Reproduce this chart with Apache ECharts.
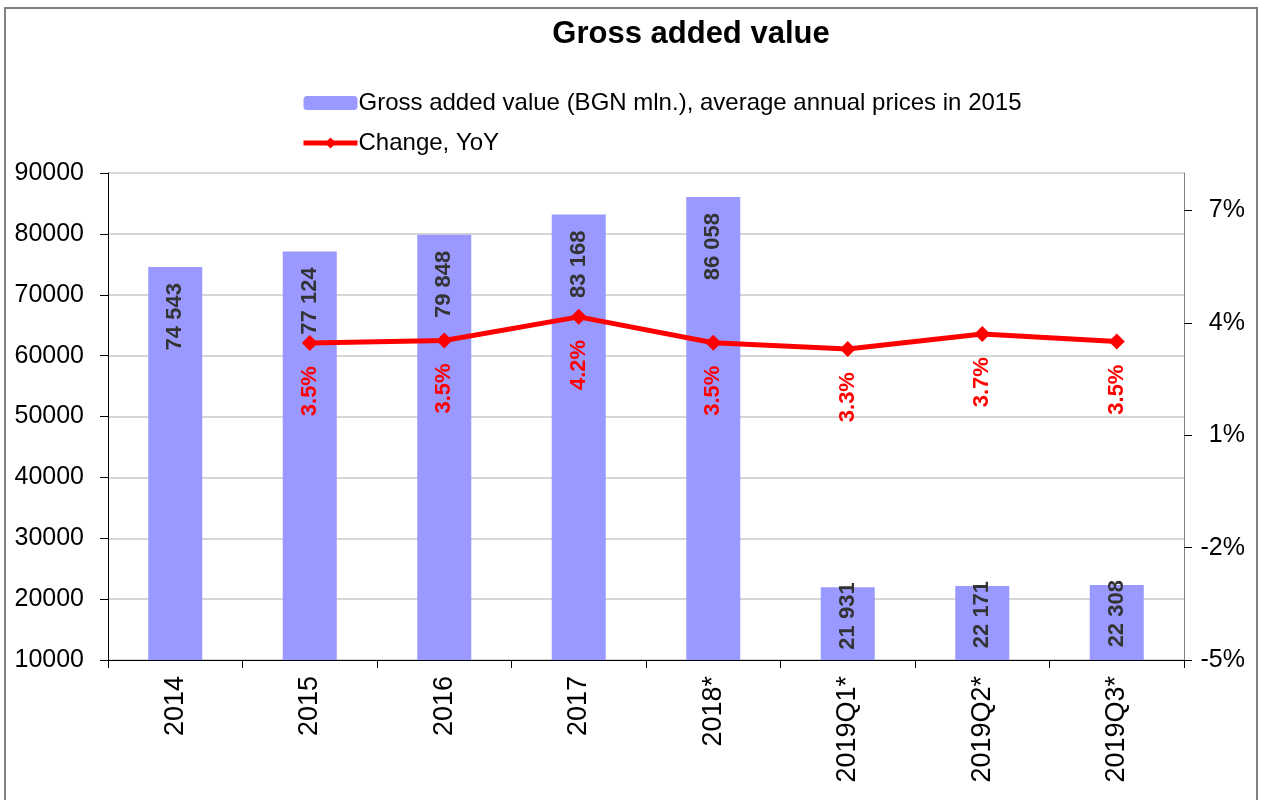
<!DOCTYPE html>
<html>
<head>
<meta charset="utf-8">
<script src="https://cdn.jsdelivr.net/npm/echarts@6/dist/echarts.min.js"></script>
<style>
  html, body { margin: 0; padding: 0; background: #fff; }
  #chart { width: 1266px; height: 800px; }
</style>
</head>
<body>
<div id="chart"></div>
<script>
// data
const categories = ['2014', '2015', '2016', '2017', '2018*', '2019Q1*', '2019Q2*', '2019Q3*']
const gvaValues = [74543, 77124, 79848, 83168, 86058, 21931, 22171, 22308]
const changeValues = [null, 3.46, 3.53, 4.16, 3.47, 3.3, 3.7, 3.5]
const leftTicks = [10000, 20000, 30000, 40000, 50000, 60000, 70000, 80000, 90000]
const rightTicks = [-5, -2, 1, 4, 7]

const fontFamily = 'Liberation Sans, Arial, sans-serif'
const barName = 'Gross added value (BGN mln.), average annual prices in 2015'
const lineName = 'Change, YoY'

// short quarterly bars: label sits a bit higher, as in the picture
const barData = gvaValues.map(function (v) {
  if (v < 30000) {
    return { value: v, label: { distance: -5 } }
  }
  return v
})

let myChart = echarts.init(document.getElementById('chart'))
myChart.setOption({
  animation: false,
  textStyle: { fontFamily: fontFamily },
  title: {
    text: 'Gross added value',
    left: 686,
    textAlign: 'center',
    top: 14,
    textStyle: { fontSize: 31, fontWeight: 'bold', color: '#000', fontFamily: fontFamily },
  },
  graphic: [
    {
      type: 'rect',
      shape: { x: 5, y: 8, width: 1252, height: 800 },
      style: { fill: 'none', stroke: '#808080', lineWidth: 2 },
      silent: true,
    },
  ],
  legend: {
    orient: 'vertical',
    left: 296,
    top: 86,
    itemWidth: 54,
    itemHeight: 14,
    itemGap: 16,
    textStyle: { fontSize: 24, color: '#000', fontFamily: fontFamily, padding: [0, 0, 0, -4] },
    data: [
      { name: barName },
      { name: lineName, lineStyle: { width: 5, color: '#ff0000' }, itemStyle: { color: '#ff0000' } },
    ],
  },
  grid: {
    left: 108,
    right: 82,
    top: 173,
    bottom: 140,
  },
  xAxis: {
    type: 'category',
    data: categories,
    axisLine: { onZero: false, lineStyle: { color: '#000', width: 1 } },
    axisTick: { show: true, length: 8, lineStyle: { color: '#000' } },
    axisLabel: {
      rotate: 90,
      margin: 16,
      fontSize: 27,
      color: '#000',
      fontFamily: fontFamily,
    },
  },
  yAxis: [
    {
      type: 'value',
      min: 10000,
      max: 90000,
      interval: 10000,
      position: 'left',
      axisLine: { show: true, lineStyle: { color: '#000' } },
      axisTick: { show: true, length: 8, lineStyle: { color: '#000' }, customValues: leftTicks },
      axisLabel: {
        fontSize: 25,
        color: '#000',
        margin: 24,
        fontFamily: fontFamily,
        customValues: leftTicks,
        formatter: function (v) { return String(v) },
      },
      splitLine: { show: true, lineStyle: { color: '#c8c8c8', width: 1.5 } },
    },
    {
      type: 'value',
      min: -5,
      max: 8,
      position: 'right',
      axisLine: { show: true, lineStyle: { color: '#808080' } },
      axisTick: { show: true, length: 8, lineStyle: { color: '#000' }, customValues: rightTicks },
      axisLabel: {
        fontSize: 25,
        color: '#000',
        margin: 61,
        align: 'right',
        fontFamily: fontFamily,
        customValues: rightTicks,
        formatter: function (v) { return v + '%' },
      },
      splitLine: { show: false },
    },
  ],
  series: [
    {
      name: barName,
      type: 'bar',
      yAxisIndex: 0,
      barWidth: 54,
      data: barData,
      itemStyle: { color: '#9999ff' },
      label: {
        show: true,
        position: 'insideTop',
        distance: 16,
        rotate: 90,
        align: 'right',
        verticalAlign: 'middle',
        fontSize: 22,
        fontWeight: 'bold',
        color: '#333333',
        fontFamily: fontFamily,
        formatter: function (p) {
          return String(p.value).replace(/\B(?=(\d{3})+(?!\d))/g, ' ')
        },
      },
    },
    {
      name: lineName,
      type: 'line',
      yAxisIndex: 1,
      data: changeValues,
      symbol: 'diamond',
      symbolSize: 16,
      lineStyle: { color: '#ff0000', width: 5 },
      itemStyle: { color: '#ff0000' },
      label: {
        show: true,
        position: 'bottom',
        distance: 15,
        rotate: 90,
        align: 'right',
        verticalAlign: 'middle',
        fontSize: 22,
        fontWeight: 'bold',
        color: '#ff0000',
        fontFamily: fontFamily,
        formatter: function (p) {
          return p.value.toFixed(1) + '%'
        },
      },
    },
  ],
})
</script>
</body>
</html>
